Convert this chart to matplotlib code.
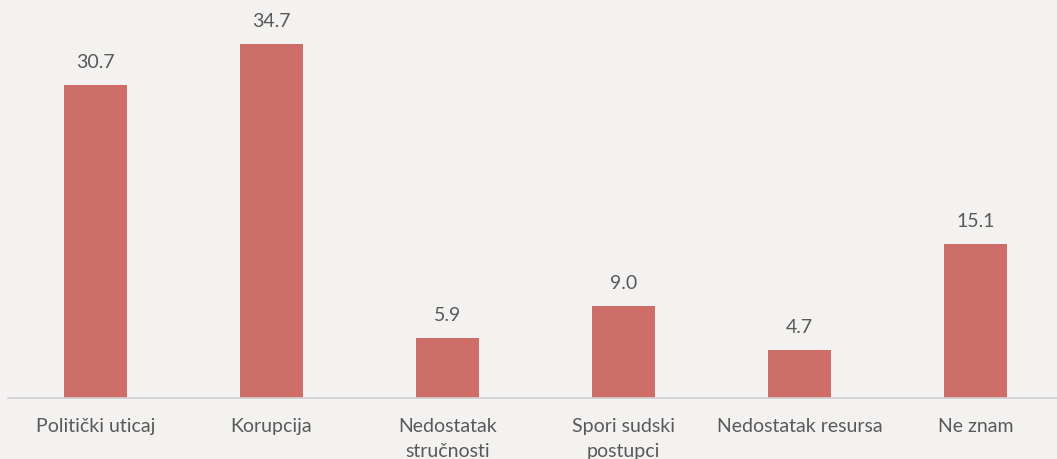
import numpy as np
import matplotlib.pyplot as plt

categories = ["Politički uticaj", "Korupcija", "Nedostatak\nstručnosti",
              "Spori sudski\npostupci", "Nedostatak resursa", "Ne znam"]
values = [30.7, 34.7, 5.9, 9.0, 4.7, 15.1]

bar_color = "#cd6e68"
text_color = "#595959"
bg = "#f3f2f1"

plt.rcParams["font.family"] = ["Lato", "DejaVu Sans"]

fig = plt.figure(figsize=(10.57, 4.60), dpi=100, facecolor=bg)
ax = fig.add_axes([7.5 / 1057, 61 / 460, 1056 / 1057, 387.6 / 460])
ax.set_facecolor(bg)

x = np.arange(len(categories))
ax.bar(x, values, width=0.36, color=bar_color)

for xi, v in zip(x, values):
    ax.annotate(f"{v:.1f}", (xi, v), xytext=(0, 11), textcoords="offset points",
                ha="center", va="bottom", fontsize=14, color=text_color)

ax.set_xlim(-0.5, 5.5)
ax.set_ylim(0, 38)
ax.set_xticks(x)
ax.set_xticklabels(categories, fontsize=14, color=text_color, linespacing=1.55)
ax.tick_params(axis="x", length=0, pad=14)
ax.set_yticks([])
for s in ["top", "right", "left"]:
    ax.spines[s].set_visible(False)
ax.spines["bottom"].set_color("#d0d0d0")
ax.spines["bottom"].set_linewidth(1.2)

fig.savefig("out.png", dpi=100, facecolor=bg)
